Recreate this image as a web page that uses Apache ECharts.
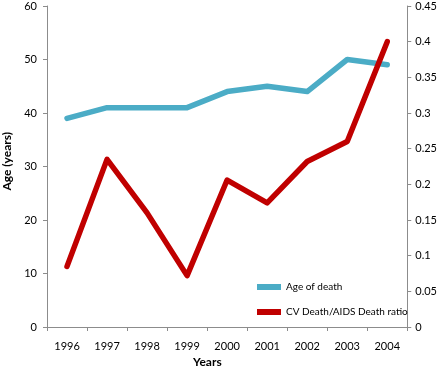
<!DOCTYPE html>
<html><head><meta charset="utf-8">
<script src="https://cdn.jsdelivr.net/npm/echarts@6/dist/echarts.min.js"></script>
<style>html,body{margin:0;padding:0;background:#fff}#c{width:440px;height:373px}</style>
</head><body><div id="c"></div>
<script>
const years = ['1996','1997','1998','1999','2000','2001','2002','2003','2004'];
const ageOfDeath = [39, 41, 41, 41, 44, 45, 44, 50, 49];
const cvAidsRatio = [0.085, 0.235, 0.16, 0.072, 0.206, 0.174, 0.232, 0.26, 0.40];
const leftTicks = [0, 10, 20, 30, 40, 50, 60];
const rightTicks = [0, 0.05, 0.1, 0.15, 0.2, 0.25, 0.3, 0.35, 0.4, 0.45];

const FONT = 'Lato';
const chart = echarts.init(document.getElementById('c'));
chart.setOption({
  animation: false,
  textStyle: {fontFamily: FONT},
  grid: {left: 47, right: 32, top: 6, bottom: 46, containLabel: false},
  legend: {
    orient: 'vertical', left: 252, top: 277, itemGap: 15,
    itemWidth: 24, itemHeight: 6, icon: 'rect',
    textStyle: {fontFamily: FONT, fontSize: 10, color: '#000'},
    data: ['Age of death', 'CV Death/AIDS Death ratio']
  },
  xAxis: {
    type: 'category', data: years, boundaryGap: true,
    axisLine: {lineStyle: {color: '#8c8c8c'}},
    axisTick: {show: true, length: 4, lineStyle: {color: '#8c8c8c'}},
    axisLabel: {fontSize: 11, color: '#000', margin: 14, fontFamily: FONT}
  },
  yAxis: [{
    type: 'value', min: 0, max: 60, interval: 10,
    axisLine: {show: true, lineStyle: {color: '#8c8c8c'}},
    axisTick: {show: true, length: 4, lineStyle: {color: '#8c8c8c'}},
    splitLine: {show: false},
    axisLabel: {fontSize: 11, color: '#000', margin: 10, fontFamily: FONT,
      formatter: v => leftTicks.includes(v) ? String(v) : ''}
  }, {
    type: 'value', min: 0, max: 0.45, interval: 0.05,
    axisLine: {show: true, lineStyle: {color: '#8c8c8c'}},
    axisTick: {show: true, length: 4, lineStyle: {color: '#8c8c8c'}},
    splitLine: {show: false},
    axisLabel: {fontSize: 11, color: '#000', margin: 8, fontFamily: FONT,
      formatter: v => { const r = rightTicks.find(t => Math.abs(t - v) < 1e-9); return r === undefined ? '' : String(r); }}
  }],
  graphic: [
    {type: 'text', left: 1, top: 132, rotation: Math.PI / 2,
      style: {text: 'Age (years)', font: 'bold 12px ' + FONT, fill: '#000'}},
    {type: 'text', left: 193, top: 356,
      style: {text: 'Years', font: 'bold 12px ' + FONT, fill: '#000'}}
  ],
  series: [{
    name: 'Age of death', type: 'line', yAxisIndex: 0, data: ageOfDeath,
    showSymbol: false, symbol: 'none',
    lineStyle: {width: 5.5, color: '#4BACC6', cap: 'round', join: 'round'},
    itemStyle: {color: '#4BACC6'}
  }, {
    name: 'CV Death/AIDS Death ratio', type: 'line', yAxisIndex: 1, data: cvAidsRatio,
    showSymbol: false, symbol: 'none',
    lineStyle: {width: 5.5, color: '#C00000', cap: 'round', join: 'round'},
    itemStyle: {color: '#C00000'}
  }]
});
</script></body></html>
